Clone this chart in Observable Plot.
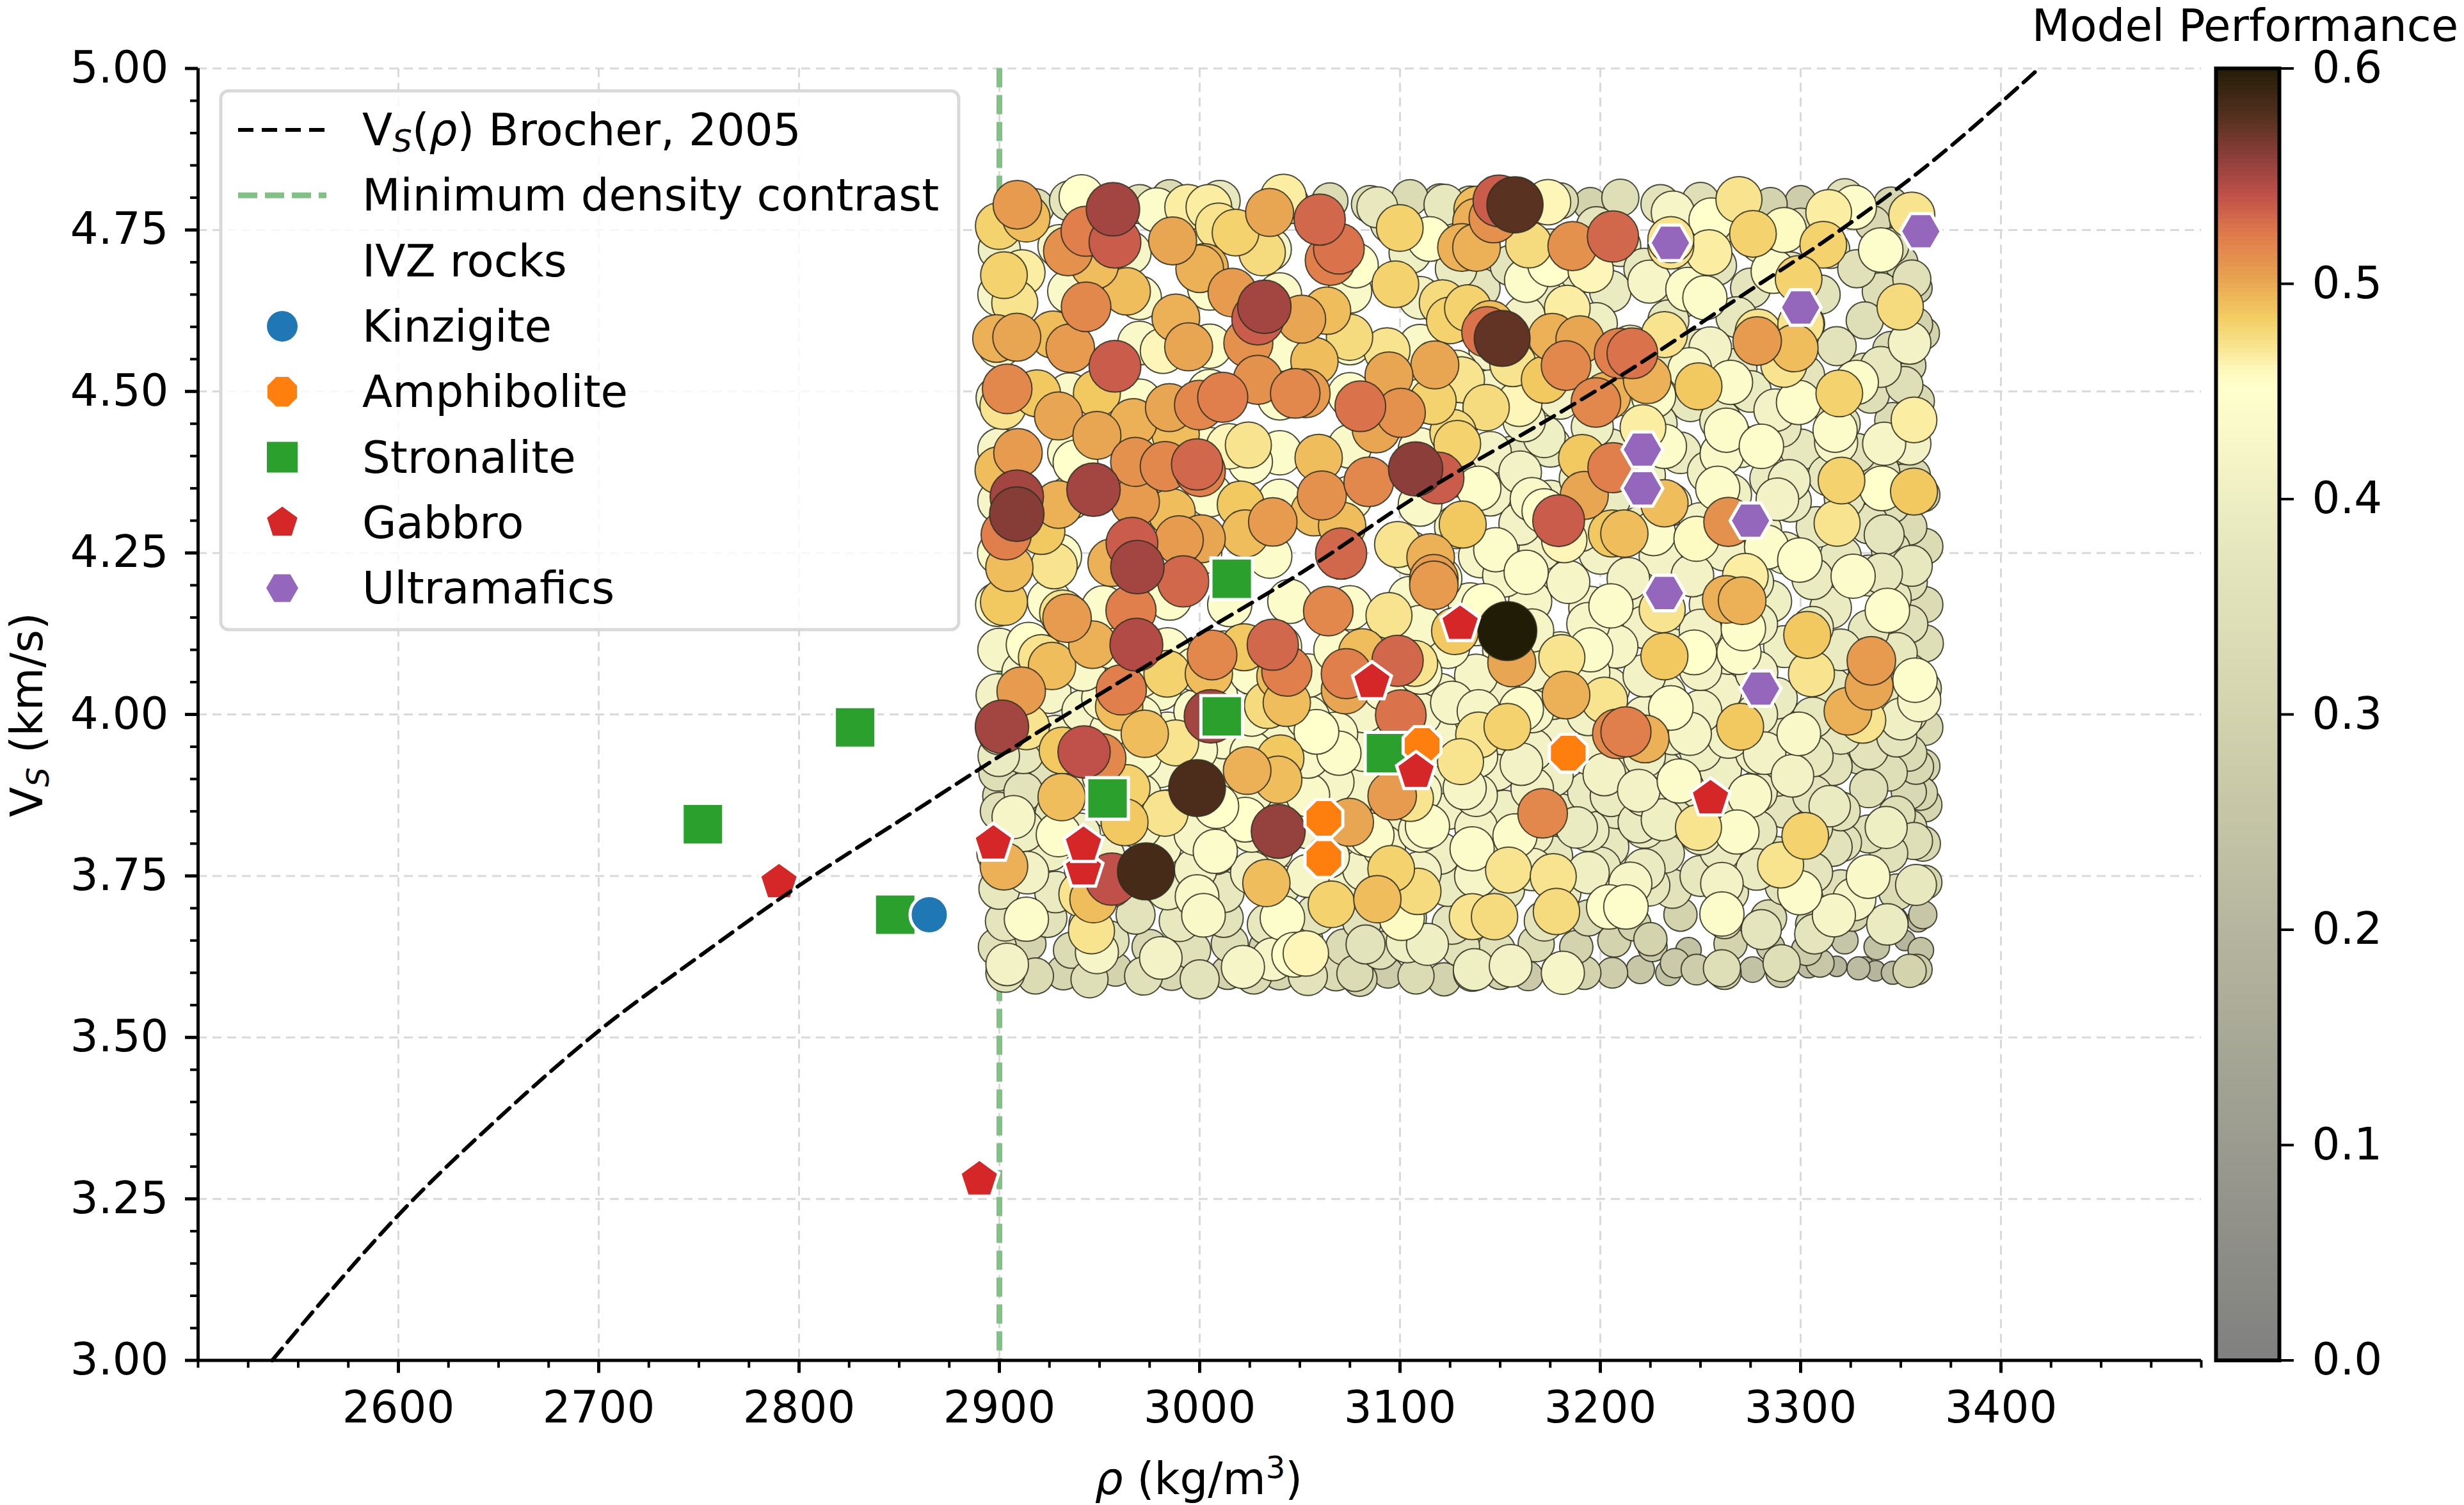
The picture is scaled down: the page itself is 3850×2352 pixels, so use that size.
<!DOCTYPE html>
<html>
<head>
<meta charset="utf-8">
<script src="https://cdn.jsdelivr.net/npm/d3@7"></script>
<script src="https://cdn.jsdelivr.net/npm/@observablehq/plot@0.6"></script>
<style>
  body { margin: 0; background: white; }
  #chart { position: relative; width: 3850px; height: 2352px; overflow: hidden; }
  #chart svg { position: absolute; top: 0; overflow: visible; }
</style>
</head>
<body>
<div id="chart"></div>
<script>
// ticks
const xMajor = [2600, 2700, 2800, 2900, 3000, 3100, 3200, 3300, 3400]
const xMinor = [2500, 2525, 2550, 2575, 2625, 2650, 2675, 2725, 2750, 2775, 2825, 2850, 2875, 2925, 2950, 2975, 3025, 3050, 3075, 3125, 3150, 3175, 3225, 3250, 3275, 3325, 3350, 3375, 3425, 3450, 3475, 3500]
const yMajor = [3, 3.25, 3.5, 3.75, 4, 4.25, 4.5, 4.75, 5]
const yMinor = [3.05, 3.1, 3.15, 3.2, 3.3, 3.35, 3.4, 3.45, 3.55, 3.6, 3.65, 3.7, 3.8, 3.85, 3.9, 3.95, 4.05, 4.1, 4.15, 4.2, 4.3, 4.35, 4.4, 4.45, 4.55, 4.6, 4.65, 4.7, 4.8, 4.85, 4.9, 4.95]
const perfTicks = [0, 0.1, 0.2, 0.3, 0.4, 0.5, 0.6]

// colormap
const perfStops = [0, .1, .2, .3, .38, .42, .45, .46, .468, .483, .5025, .522, .54, .557, .577, .6]
const perfColors = ['#808080', '#9b9b8f', '#b6b69f', '#d3d3ae', '#e8e8bf', '#f5f5c8', '#ffffcc', '#fdf6b8', '#f9e795', '#f3cd63', '#e8a050', '#df7a4c', '#c0504a', '#8f3f3c', '#53301f', '#211c06']

// curva de Brocher
const brocher = [[2537,3],[2560,3.085],[2600,3.225],[2650,3.375],[2700,3.51],[2750,3.625],[2800,3.735],[2850,3.835],[2900,3.935],[2961,4.052],[3000,4.125],[3050,4.218],[3107,4.335],[3185,4.477],[3213,4.53],[3269,4.645],[3319,4.748],[3360,4.842],[3419,5]]

// rocas IVZ
const kinzigite = [[2865,3.69]]
const amphibolite = [[3062,3.839],[3062,3.777],[3111,3.952],[3184,3.94]]
const stronalite = [[2752,3.83],[2828,3.98],[2848,3.69],[2954,3.87],[3011,3.997],[3016,4.21],[3093,3.94]]
const gabbro = [[2790,3.74],[2890,3.28],[2897,3.8],[2942,3.76],[2942,3.798],[3130,4.14],[3086,4.05],[3108,3.911],[3255,3.87]]
const ultramafics = [[3235,4.73],[3360,4.748],[3300,4.63],[3221,4.41],[3221,4.35],[3275,4.3],[3232,4.188],[3280,4.04]]

// modelos [rho, vs, performance]
const bottomBand = [[2903,3.6,.36],[2918,3.595,.33],[2932,3.6,.31],[2945,3.59,.34],[2958,3.605,.3],[2972,3.595,.35],[2986,3.6,.32],[3000,3.59,.36],[3014,3.6,.3],[3027,3.595,.33],[3040,3.6,.31],[3054,3.595,.36],[3068,3.6,.33],[3080,3.59,.31],[3094,3.6,.28],[3108,3.595,.33],[3122,3.59,.3],[3136,3.6,.34],[3150,3.6,.3],[3164,3.595,.27],[3178,3.605,.26],[3192,3.6,.3],[3206,3.6,.28],[3220,3.605,.26],[3234,3.6,.24],[3248,3.605,.28],[3262,3.6,.3],[3276,3.605,.24],[3290,3.6,.27],[3304,3.61,.22],[3318,3.61,.2],[3332,3.61,.19],[3346,3.6,.22],[3358,3.605,.28],
[2899,3.64,.35],[2915,3.645,.3],[2936,3.635,.33],[2955,3.65,.36],[2975,3.64,.32],[2996,3.635,.35],[3015,3.645,.34],[3033,3.64,.3],[3052,3.65,.35],[3072,3.64,.33],[3090,3.635,.35],[3111,3.645,.31],[3130,3.64,.36],[3148,3.635,.35],[3168,3.645,.33],[3188,3.64,.3],[3207,3.65,.3],[3226,3.64,.27],[3244,3.635,.24],[3265,3.645,.3],[3285,3.64,.26],[3303,3.635,.28],[3322,3.65,.25],[3338,3.64,.24],[3352,3.65,.2],[3360,3.635,.24],
[2903,3.68,.37],[2924,3.685,.36],[2945,3.675,.38],[2968,3.69,.36],[2990,3.68,.38],[3012,3.685,.36],[3034,3.675,.38],[3058,3.69,.37],[3081,3.68,.36],[3103,3.685,.38],[3126,3.675,.37],[3148,3.69,.36],[3172,3.68,.37],[3194,3.685,.33],[3217,3.675,.3],[3240,3.69,.3],[3262,3.68,.32],[3284,3.685,.33],[3306,3.675,.31],[3326,3.69,.3],[3346,3.68,.28],[3361,3.69,.26]]

const midBand = [[2900,3.73,.38],[2928,3.725,.39],[2956,3.735,.41],[2984,3.73,.4],[3012,3.725,.38],[3040,3.735,.39],[3068,3.73,.41],[3096,3.725,.4],[3124,3.735,.39],[3152,3.73,.38],[3180,3.725,.39],[3208,3.735,.38],[3236,3.73,.36],[3264,3.725,.37],[3292,3.735,.36],[3320,3.73,.35],[3348,3.725,.33],[3362,3.74,.31],
[2899,3.785,.38],[2925,3.79,.4],[2952,3.78,.41],[2980,3.795,.42],[3008,3.785,.41],[3036,3.79,.4],[3064,3.78,.42],[3092,3.795,.42],[3120,3.785,.4],[3148,3.79,.41],[3176,3.78,.38],[3204,3.795,.38],[3232,3.785,.37],[3260,3.79,.39],[3288,3.78,.37],[3316,3.795,.36],[3344,3.785,.35],[3361,3.8,.32],
[2900,3.85,.35],[2928,3.845,.38],[2956,3.855,.4],[2984,3.85,.42],[3012,3.845,.42],[3040,3.855,.41],[3068,3.85,.42],[3096,3.845,.41],[3124,3.855,.41],[3152,3.85,.4],[3180,3.845,.39],[3208,3.855,.38],[3236,3.85,.38],[3264,3.845,.39],[3292,3.855,.37],[3320,3.85,.36],[3348,3.845,.34],[3362,3.86,.31],
[2899,3.91,.34],[2925,3.915,.36],[2952,3.905,.41],[2980,3.92,.42],[3008,3.91,.42],[3036,3.915,.42],[3064,3.905,.42],[3092,3.92,.42],[3120,3.91,.41],[3148,3.915,.41],[3176,3.905,.4],[3204,3.92,.4],[3232,3.91,.39],[3260,3.915,.4],[3288,3.905,.38],[3316,3.92,.36],[3344,3.91,.34],[3361,3.92,.31],
[2900,3.97,.4],[2928,3.965,.42],[2956,3.975,.43],[2984,3.97,.43],[3012,3.965,.43],[3040,3.975,.42],[3068,3.97,.43],[3096,3.965,.42],[3124,3.975,.42],[3152,3.97,.41],[3180,3.965,.41],[3208,3.975,.4],[3236,3.97,.4],[3264,3.965,.41],[3292,3.975,.39],[3320,3.97,.38],[3348,3.965,.37],[3362,3.98,.33],
[2899,4.03,.41],[2925,4.035,.42],[2952,4.025,.43],[2980,4.04,.43],[3008,4.03,.43],[3036,4.035,.43],[3064,4.025,.42],[3092,4.04,.43],[3120,4.03,.42],[3148,4.035,.41],[3176,4.025,.41],[3204,4.04,.41],[3232,4.03,.41],[3260,4.035,.41],[3288,4.025,.39],[3316,4.04,.38],[3344,4.03,.38],[3361,4.04,.34],
[2900,4.1,.42],[2928,4.095,.43],[2956,4.105,.44],[2984,4.1,.44],[3012,4.095,.44],[3040,4.105,.43],[3068,4.1,.44],[3096,4.095,.43],[3124,4.105,.43],[3152,4.1,.42],[3180,4.095,.41],[3208,4.105,.42],[3236,4.1,.4],[3264,4.095,.41],[3292,4.105,.4],[3320,4.1,.39],[3348,4.095,.38],[3362,4.11,.34]]

const upperBand = [[2899,4.17,.43],[2925,4.175,.44],[2952,4.165,.44],[2985,4.18,.44],[3015,4.17,.44],[3045,4.175,.44],[3075,4.165,.44],[3105,4.18,.43],[3135,4.17,.43],[3165,4.175,.42],[3195,4.165,.42],[3225,4.18,.41],[3255,4.17,.41],[3285,4.175,.4],[3315,4.165,.39],[3345,4.18,.38],[3362,4.17,.33],
[2900,4.25,.43],[2930,4.245,.44],[2965,4.255,.44],[3000,4.25,.44],[3035,4.245,.44],[3070,4.255,.44],[3105,4.25,.43],[3140,4.245,.42],[3170,4.255,.41],[3200,4.25,.41],[3230,4.245,.41],[3262,4.255,.41],[3292,4.25,.4],[3320,4.245,.38],[3345,4.255,.36],[3362,4.26,.33],
[2900,4.33,.42],[2935,4.335,.43],[2970,4.325,.44],[3005,4.34,.44],[3040,4.33,.44],[3075,4.335,.44],[3110,4.325,.43],[3145,4.34,.41],[3175,4.33,.4],[3205,4.335,.39],[3235,4.325,.41],[3265,4.34,.4],[3295,4.33,.39],[3322,4.335,.38],[3345,4.325,.35],[3361,4.34,.31],
[2900,4.41,.42],[2935,4.405,.43],[2970,4.415,.44],[3005,4.41,.44],[3040,4.405,.44],[3075,4.415,.43],[3110,4.41,.43],[3145,4.405,.41],[3175,4.415,.39],[3205,4.41,.39],[3240,4.405,.39],[3270,4.415,.41],[3300,4.41,.38],[3328,4.405,.36],[3350,4.415,.33],
[2899,4.49,.41],[2935,4.495,.43],[2970,4.485,.44],[3005,4.5,.44],[3040,4.49,.44],[3075,4.495,.44],[3110,4.485,.44],[3145,4.5,.42],[3180,4.49,.41],[3212,4.495,.4],[3245,4.485,.38],[3275,4.5,.39],[3305,4.49,.37],[3335,4.495,.34],[3358,4.485,.32],
[2900,4.57,.41],[2935,4.565,.43],[2970,4.575,.43],[3005,4.57,.44],[3040,4.565,.44],[3075,4.575,.43],[3110,4.57,.43],[3145,4.565,.41],[3180,4.575,.41],[3215,4.57,.4],[3250,4.565,.38],[3285,4.575,.39],[3318,4.57,.36],[3345,4.565,.33],[3361,4.59,.3],
[2900,4.65,.42],[2935,4.655,.43],[2970,4.645,.43],[3005,4.66,.44],[3040,4.65,.43],[3075,4.655,.43],[3110,4.645,.41],[3140,4.66,.37],[3170,4.65,.39],[3205,4.655,.39],[3240,4.645,.38],[3275,4.66,.37],[3310,4.65,.36],[3340,4.655,.34],[3358,4.66,.28],
[2900,4.72,.4],[2930,4.725,.42],[2965,4.715,.42],[3000,4.73,.43],[3035,4.72,.42],[3070,4.725,.4],[3105,4.715,.4],[3140,4.73,.36],[3175,4.72,.38],[3210,4.725,.38],[3245,4.715,.38],[3280,4.73,.37],[3315,4.72,.35],[3345,4.725,.33],
[2918,4.785,.34],[2935,4.795,.37],[2970,4.79,.36],[2985,4.8,.33],[3010,4.795,.38],[3045,4.79,.36],[3065,4.795,.33],[3085,4.79,.34],[3105,4.8,.33],[3120,4.795,.31],[3135,4.79,.33],[3180,4.795,.33],[3195,4.79,.3],[3210,4.8,.34],[3230,4.79,.36],[3250,4.795,.34],[3285,4.79,.3],[3300,4.795,.28],[3322,4.8,.35],[3345,4.79,.31]]

// relleno entre filas, zonas que quedaban vacias
const fillBand = [[2914,3.755,.41],[2943,3.76,.4],[2971,3.75,.42],[2998,3.76,.41],[3026,3.755,.41],[3054,3.75,.42],[3082,3.76,.41],[3110,3.755,.41],[3138,3.75,.42],[3166,3.76,.41],[3194,3.755,.4],[3222,3.76,.39],[3250,3.75,.38],[3278,3.76,.39],[3306,3.755,.37],[3334,3.75,.35],
[2912,3.82,.4],[2940,3.815,.4],[2970,3.825,.42],[2998,3.815,.42],[3026,3.82,.42],[3054,3.825,.41],[3082,3.815,.42],[3110,3.82,.42],[3138,3.825,.41],[3166,3.815,.4],[3194,3.82,.39],[3222,3.825,.39],[3250,3.815,.39],[3278,3.82,.38],[3306,3.825,.37],[3334,3.815,.35],[3354,3.825,.33],
[2912,3.88,.36],[2942,3.885,.4],[2970,3.875,.42],[2998,3.885,.43],[3026,3.88,.42],[3054,3.875,.43],[3082,3.885,.42],[3110,3.88,.42],[3138,3.875,.41],[3166,3.885,.41],[3194,3.88,.39],[3222,3.875,.4],[3250,3.885,.39],[3278,3.88,.39],[3306,3.875,.37],[3334,3.885,.35],[3354,3.88,.32],
[2912,3.94,.38],[2942,3.945,.41],[2970,3.935,.43],[2998,3.945,.43],[3026,3.94,.43],[3054,3.935,.43],[3082,3.945,.42],[3110,3.94,.42],[3138,3.935,.42],[3166,3.945,.41],[3194,3.94,.41],[3222,3.935,.4],[3250,3.945,.4],[3278,3.94,.4],[3306,3.935,.38],[3334,3.945,.36],[3354,3.94,.33],
[2912,4,.41],[2942,4.005,.42],[2970,3.995,.43],[2998,4.005,.43],[3026,4,.43],[3054,3.995,.43],[3082,4.005,.42],[3110,4,.42],[3138,3.995,.42],[3166,4.005,.42],[3194,4,.41],[3222,3.995,.41],[3250,4.005,.41],[3278,4,.4],[3306,3.995,.38],[3334,4.005,.37],[3354,4,.34],
[2912,4.065,.42],[2942,4.07,.43],[2970,4.06,.44],[2998,4.07,.44],[3026,4.065,.44],[3054,4.06,.43],[3082,4.07,.43],[3110,4.065,.43],[3138,4.06,.42],[3166,4.07,.42],[3194,4.065,.42],[3222,4.06,.41],[3250,4.07,.41],[3278,4.065,.41],[3306,4.06,.39],[3334,4.07,.38],[3354,4.065,.35],
[3110,4.135,.43],[3138,4.14,.43],[3166,4.13,.42],[3194,4.14,.42],[3222,4.135,.41],[3250,4.13,.41],[3278,4.14,.4],[3306,4.135,.39],[3334,4.13,.38],[3354,4.14,.35],
[3120,4.21,.43],[3152,4.215,.42],[3184,4.205,.42],[3214,4.21,.41],[3246,4.215,.41],[3276,4.205,.4],[3306,4.21,.39],[3334,4.215,.38],[3354,4.205,.34],
[3128,4.29,.42],[3160,4.295,.41],[3190,4.285,.41],[3220,4.29,.4],[3250,4.295,.41],[3280,4.285,.4],[3308,4.29,.38],[3334,4.295,.37],[3354,4.29,.33],
[3128,4.37,.42],[3160,4.375,.41],[3190,4.365,.4],[3222,4.37,.4],[3254,4.375,.4],[3285,4.365,.39],[3314,4.37,.38],[3340,4.375,.35],[3356,4.37,.32],
[3128,4.45,.43],[3162,4.455,.41],[3196,4.445,.4],[3228,4.45,.39],[3260,4.455,.39],[3290,4.445,.38],[3320,4.45,.36],[3346,4.455,.33],
[3128,4.53,.43],[3162,4.535,.42],[3198,4.525,.4],[3232,4.53,.39],[3268,4.535,.38],[3302,4.525,.37],[3332,4.53,.35],[3354,4.54,.31],
[3128,4.61,.42],[3162,4.615,.41],[3198,4.605,.4],[3234,4.61,.38],[3268,4.615,.38],[3302,4.605,.37],[3332,4.61,.34],
[3128,4.69,.39],[3155,4.695,.37],[3190,4.685,.39],[3222,4.69,.38],[3258,4.695,.37],[3295,4.685,.37],[3328,4.69,.35],[3350,4.7,.31],
[3095,4.76,.36],[3125,4.755,.35],[3160,4.76,.36],[3198,4.755,.37],[3262,4.76,.35],[3300,4.755,.34],[3336,4.76,.32],[3352,4.74,.3]]

const topLeft = [[2909,4.789,.505],[2913.5,4.768,.49],[2899.7,4.756,.48],[2941,4.801,.45],[2956.7,4.782,.55],[2957.7,4.731,.535],[2943.3,4.748,.52],[2934.3,4.717,.51],[2978.5,4.781,.44],[2986.5,4.733,.5],[2994,4.785,.465],[3004.6,4.785,.465],[3009.4,4.756,.47],[3017.9,4.746,.48],[3034.9,4.777,.5],[3041.8,4.801,.465],[3031.2,4.715,.475],[3002.4,4.692,.495],[3000,4.69,.495],[3016.3,4.653,.505],[3032.3,4.631,.55],[3029,4.612,.535],[3024.3,4.575,.51],[3029,4.518,.51],[3011.5,4.491,.52],[2999.8,4.479,.515],[2984.9,4.475,.5],[2994.5,4.569,.5],[2988.1,4.614,.495],[2981.7,4.563,.46],[2943.3,4.631,.515],[2963.6,4.655,.49],[2947.6,4.695,.49],[2902.3,4.68,.48],[2911.4,4.684,.465],[2907.7,4.637,.47],[2957.7,4.539,.535],[2935.4,4.567,.505],[2908.7,4.584,.5],[2898.6,4.582,.495],[2926.8,4.588,.49],[2903.9,4.504,.515],[2918.8,4.497,.485],[2901.8,4.477,.47],[2929.5,4.462,.5],[2948.7,4.432,.5],[2948.7,4.497,.485],[2966.8,4.452,.495],[2988,4.434,.49],[2909.3,4.405,.505],[2899.7,4.378,.49],[2908.7,4.337,.55],[2908.7,4.31,.56],[2903.4,4.278,.52],[2921,4.284,.485],[2929.5,4.325,.495],[2947,4.348,.55],[2967.8,4.391,.51],[2982.7,4.384,.515],[2998.7,4.387,.53],[3000.3,4.376,.52],[2967.8,4.329,.505],[2986,4.313,.49],[2989.7,4.27,.505],[3000.8,4.272,.5],[2966.2,4.265,.535],[2968.9,4.228,.55],[2956.1,4.235,.495],[2927.4,4.23,.47],[2905,4.227,.49],[2991.8,4.206,.53],[3020.5,4.325,.485],[3022.7,4.28,.49],[3036.5,4.298,.505],[3024.3,4.417,.47],[3014.7,4.415,.46],[3025.3,4.391,.44],[2938,4.39,.45],[3047.7,4.497,.515]]

const topMid = [[3059.9,4.766,.53],[3069.5,4.721,.525],[3065.2,4.703,.52],[3099.9,4.753,.48],[3114.8,4.736,.45],[3088.7,4.785,.38],[3122.2,4.789,.38],[3149.4,4.795,.535],[3157.4,4.789,.575],[3146.7,4.768,.51],[3138.7,4.781,.49],[3138.2,4.762,.495],[3130.7,4.723,.495],[3138.2,4.723,.495],[3164.3,4.727,.475],[3173.9,4.793,.46],[3186.1,4.725,.51],[3206.3,4.74,.53],[3195.2,4.688,.46],[3174.9,4.697,.45],[3163.2,4.672,.44],[3183.5,4.629,.465],[3097.7,4.666,.48],[3078,4.695,.45],[3121.2,4.637,.475],[3124.9,4.61,.48],[3133.9,4.629,.48],[3145.1,4.604,.49],[3143.5,4.592,.525],[3151,4.582,.572],[3063.6,4.625,.49],[3050.9,4.612,.5],[3074.8,4.584,.475],[3093.5,4.563,.47],[3117.4,4.541,.5],[3094.5,4.524,.5],[3057.3,4.547,.49],[3053,4.497,.505],[3080.2,4.477,.525],[3100.4,4.467,.51],[3088.1,4.442,.5],[3116.4,4.485,.48],[3130.7,4.518,.47],[3143,4.475,.475],[3126.5,4.436,.475],[3128.6,4.419,.48],[3159.5,4.481,.46],[3156.3,4.543,.47],[3176,4.584,.495],[3189.8,4.58,.5],[3182.9,4.54,.515],[3172.3,4.518,.485],[3197.8,4.483,.515],[3203.2,4.493,.495],[3209.5,4.559,.52],[3059.4,4.397,.49],[3061,4.339,.51],[3084.4,4.36,.515],[3057.3,4.313,.49],[3107.8,4.38,.558],[3119,4.366,.535],[3131.3,4.294,.485],[3098.8,4.263,.47],[3070.6,4.249,.53],[3071.1,4.292,.49],[3115.3,4.243,.495],[3116.9,4.21,.505],[3190.9,4.397,.485],[3192,4.339,.5],[3179.2,4.3,.535],[3205.8,4.28,.485],[3182,4.27,.46],[3206.3,4.382,.52],[3139.3,4.35,.445],[3165.9,4.333,.43],[3172,4.315,.445],[3147.8,4.255,.44],[3156,4.399,.38],[3172,4.43,.4],[3163,4.22,.44]]

const topRight = [[3235.2,4.725,.47],[3235.2,4.735,.47],[3254.3,4.715,.465],[3269.2,4.797,.47],[3276.2,4.744,.48],[3291.6,4.75,.455],[3255.4,4.765,.45],[3236.2,4.777,.42],[3311.3,4.727,.48],[3314,4.777,.465],[3326.8,4.785,.44],[3299,4.674,.48],[3340,4.719,.445],[3355.5,4.773,.47],[3349.7,4.631,.475],[3354.4,4.575,.41],[3286.3,4.686,.44],[3243.7,4.658,.44],[3224.5,4.67,.42],[3252.2,4.645,.44],[3278.8,4.592,.47],[3278.3,4.578,.505],[3296.9,4.567,.49],[3291.6,4.542,.47],[3300.1,4.604,.47],[3232,4.588,.47],[3216,4.559,.525],[3223.4,4.518,.495],[3249,4.508,.485],[3265,4.514,.44],[3226.6,4.493,.44],[3221.3,4.444,.465],[3232,4.415,.44],[3254.9,4.567,.41],[3244.7,4.534,.43],[3262.9,4.44,.44],[3280.4,4.415,.445],[3260.7,4.403,.43],[3299,4.483,.445],[3287.3,4.471,.41],[3319.3,4.497,.48],[3327.8,4.514,.44],[3317.2,4.44,.44],[3317.7,4.421,.42],[3340,4.538,.38],[3351.8,4.51,.34],[3356.6,4.456,.465],[3341.7,4.419,.42],[3354.4,4.419,.41],[3320.4,4.362,.48],[3356.6,4.345,.485],[3340.6,4.35,.45],[3318.2,4.296,.47],[3341.7,4.278,.37],[3232,4.327,.49],[3212,4.28,.49],[3258.6,4.35,.44],[3248,4.272,.455],[3263.9,4.298,.51],[3288.4,4.333,.41],[3294.3,4.362,.4],[3283,4.259,.44],[3299.6,4.239,.445],[3326.2,4.214,.44],[3272.4,4.214,.465],[3226.6,4.28,.44],[3355.5,4.23,.38],[3340.6,4.218,.38],[3355.5,4.674,.35],[3357.6,4.604,.3]]

const lowLeft = [[2902.3,4.174,.485],[2933.8,4.149,.505],[2931.6,4.157,.47],[2965.7,4.161,.52],[2968.4,4.108,.545],[2946.5,4.108,.495],[2926.3,4.075,.49],[2921,4.088,.47],[2914.6,4.108,.45],[2910.9,4.036,.505],[2901.3,3.981,.55],[2960.9,4.038,.52],[2959.8,4.012,.49],[2972.6,3.97,.49],[2988,3.956,.47],[2983.8,4.063,.48],[3006.2,4.092,.515],[3004.6,4.063,.49],[3036.5,4.108,.53],[3022.2,4.104,.485],[3043.5,4.067,.52],[3040.3,4.059,.49],[3033.9,4.014,.475],[3043.5,4.018,.49],[3005.6,3.997,.55],[3023.7,3.913,.495],[3039.2,3.899,.49],[3040.3,3.932,.485],[2998.7,3.886,.58],[2942.3,3.942,.54],[2950.8,3.932,.515],[2931.6,3.944,.485],[2913.5,3.981,.47],[2931.1,3.872,.49],[2963.6,3.886,.48],[2962.5,3.833,.485],[2982.7,3.847,.47],[2929.5,3.814,.445],[2902.3,3.765,.495],[2956.1,3.745,.54],[2973.2,3.757,.583],[2947,3.714,.49],[2941.2,3.722,.47],[2946,3.665,.47],[2913.5,3.683,.44],[2903.9,3.613,.41],[2980.6,3.623,.41],[3007.8,3.788,.44],[2998.7,3.718,.43],[3001.9,3.689,.43],[3039.2,3.819,.555],[3033.3,3.739,.49],[3022.7,3.837,.45],[3008.3,3.858,.45],[3041.3,3.685,.445],[3036.5,3.621,.42],[3021.6,3.609,.42],[2948.7,3.632,.42],[2907.1,3.841,.42],[2899.7,3.936,.39],[2914,3.878,.34],[2900.7,3.874,.33],[3047.2,3.628,.45]]

const lowMid = [[3064.2,4.16,.515],[3094.5,4.153,.47],[3116.9,4.2,.505],[3098.8,4.083,.53],[3073.2,4.063,.52],[3072.7,4.038,.5],[3081.2,4.096,.49],[3107.3,4.079,.47],[3100.4,3.999,.525],[3127.5,4.129,.485],[3141.9,4.168,.45],[3153.6,4.129,.6],[3155.8,4.08,.5],[3180.8,4.088,.47],[3182.9,4.03,.495],[3202.1,4.022,.47],[3208.5,3.97,.515],[3153.6,3.981,.48],[3139.3,3.968,.47],[3130.2,3.927,.47],[3096.1,3.874,.505],[3105.2,3.87,.47],[3171.2,3.847,.515],[3154.2,3.759,.47],[3176.5,3.749,.47],[3178.1,3.695,.475],[3147.2,3.687,.475],[3136.1,3.687,.47],[3095.6,3.761,.48],[3108.9,3.726,.475],[3088.7,3.714,.49],[3065.8,3.706,.48],[3074.8,3.833,.5],[3053,3.63,.46],[3136,3.792,.44],[3113.7,3.827,.44],[3100.9,3.685,.455],[3155.2,3.611,.41],[3137.1,3.605,.4],[3181.3,3.6,.42],[3132.3,3.886,.42],[3160.6,3.923,.41],[3157.4,3.812,.44],[3204.2,3.702,.445],[3200,3.763,.38],[3188.2,3.825,.39],[3126,4.018,.42],[3160.6,4.008,.44],[3139.3,4.005,.42],[3195.2,4.1,.44],[3205.3,4.168,.44],[3069.5,3.94,.44],[3058.3,3.973,.45],[3066.3,3.895,.42],[3086,3.813,.44],[3082.8,3.644,.36],[3103.6,3.648,.4],[3113.7,3.644,.4],[3077.5,3.599,.33],[3205.3,3.874,.39],[3202,3.907,.41]]

const lowRight = [[3262.9,4.178,.495],[3270.8,4.176,.495],[3230.9,4.162,.47],[3232,4.09,.485],[3246.9,4.096,.45],[3271.4,4.133,.445],[3269.2,4.096,.44],[3303.3,4.123,.485],[3305.4,4.063,.47],[3335.3,4.083,.505],[3334.2,4.044,.5],[3323.6,4.005,.495],[3331,3.991,.47],[3343.3,4.161,.445],[3357.1,4.053,.445],[3359.2,4.022,.42],[3350.2,3.993,.4],[3212.8,3.973,.52],[3222.4,3.962,.495],[3235.2,4.01,.445],[3244.7,3.97,.42],[3269.8,3.981,.485],[3299.1,3.97,.43],[3282,3.94,.41],[3295.9,3.905,.41],[3328.9,3.936,.33],[3357.6,3.919,.32],[3359.8,3.878,.31],[3239.4,3.897,.44],[3249,3.825,.47],[3268.2,3.818,.44],[3274.6,3.874,.43],[3314.5,3.858,.39],[3302.3,3.812,.48],[3290,3.767,.47],[3342.7,3.825,.4],[3320.9,3.802,.35],[3356.6,3.804,.34],[3333.7,3.749,.43],[3326.8,3.714,.42],[3299.6,3.724,.44],[3316.6,3.689,.42],[3307,3.66,.37],[3343.3,3.675,.39],[3357.6,3.736,.38],[3260.7,3.691,.44],[3260.7,3.738,.41],[3280.4,3.667,.37],[3225,3.652,.3],[3260.7,3.607,.34],[3237.3,3.615,.27],[3290.5,3.615,.34],[3354.4,3.603,.3],[3309.7,3.615,.26],[3328.9,3.607,.22],[3337.4,3.603,.2],[3358.7,3.681,.22],[3215,3.738,.42],[3212.8,3.702,.445],[3224.5,3.735,.38],[3219.2,3.882,.41],[3230.9,3.837,.4],[3219.2,3.833,.39],[3337.4,3.936,.31]]

const models = [...bottomBand, ...midBand, ...upperBand, ...fillBand, ...topLeft, ...topMid, ...topRight, ...lowLeft, ...lowMid, ...lowRight]

// simbolos: poligono regular, r = circunradio (viene de size)
const polygon = (n, rot) => ({
  draw(ctx, size) {
    const R = Math.sqrt(size / Math.PI)
    for (let i = 0; i < n; i++) {
      const a = rot + i * 2 * Math.PI / n
      if (i === 0) ctx.moveTo(R * Math.cos(a), R * Math.sin(a))
      else ctx.lineTo(R * Math.cos(a), R * Math.sin(a))
    }
    ctx.closePath()
  }
})
const octagon = polygon(8, Math.PI / 8)
const square = polygon(4, Math.PI / 4)
const pentagon = polygon(5, -Math.PI / 2)
const hexagon = polygon(6, 0)

const rockMark = (data, fill, symbol, r) => Plot.dot(data, {
  x: d => d[0], y: d => d[1], r, symbol, fill, stroke: 'white', strokeWidth: 5
})

const font = 'DejaVu Sans'
const fs = 69

const chart = Plot.plot({
  width: 3450, height: 2352,
  marginLeft: 309, marginRight: 11, marginTop: 106.5, marginBottom: 226.5,
  style: { fontFamily: font, background: 'transparent', color: 'black' },
  x: { domain: [2500, 3500] },
  y: { domain: [3, 5] },
  r: { type: 'linear', domain: [.19, .3, .38, .45, .5, .6], range: [15, 26, 32, 35, 37.5, 46] },
  color: { type: 'linear', domain: perfStops, range: perfColors },
  marks: [
    Plot.gridX(xMajor, { stroke: '#d9d9d9', strokeOpacity: 1, strokeWidth: 3, strokeDasharray: '14 9' }),
    Plot.gridY(yMajor, { stroke: '#d9d9d9', strokeOpacity: 1, strokeWidth: 3, strokeDasharray: '14 9' }),
    Plot.ruleX([2900], { stroke: '#80c283', strokeWidth: 9, strokeDasharray: '30 12' }),
    Plot.dot(models, {
      x: d => d[0], y: d => d[1], r: d => d[2], fill: d => d[2],
      sort: d => d[2],
      stroke: '#2f2f1f', strokeWidth: 2, strokeOpacity: .85
    }),
    rockMark(stronalite, '#2ca02c', square, 46),
    rockMark(amphibolite, '#ff7f0e', octagon, 32),
    rockMark(kinzigite, '#1f77b4', 'circle', 30),
    rockMark(gabbro, '#d62728', pentagon, 32),
    rockMark(ultramafics, '#9467bd', hexagon, 32),
    Plot.line(brocher, { x: d => d[0], y: d => d[1], curve: 'monotone-x', stroke: 'black', strokeWidth: 6, strokeDasharray: '24 13' }),
    Plot.ruleX([2500], { strokeWidth: 5 }),
    Plot.ruleY([3], { strokeWidth: 5 }),
    Plot.axisX(xMajor, { tickSize: 20, tickPadding: 28, strokeWidth: 5, fontSize: fs, tickFormat: 'd', label: null }),
    Plot.axisX(xMinor, { tickSize: 12, strokeWidth: 4, fill: 'none', label: null }),
    Plot.axisY(yMajor, { tickSize: 20, tickPadding: 26, strokeWidth: 5, fontSize: fs, tickFormat: '.2f', label: null }),
    Plot.axisY(yMinor, { tickSize: 12, strokeWidth: 4, fill: 'none', label: null })
  ]
})

// etiquetas con subindices y cursiva
const svg = d3.select(chart)
const xLabel = svg.append('text').attr('x', 1873).attr('y', 2335).attr('text-anchor', 'middle').attr('font-size', fs)
xLabel.append('tspan').attr('font-style', 'italic').text('ρ')
xLabel.append('tspan').text(' (kg/m')
xLabel.append('tspan').attr('font-size', 48).attr('dy', -25).text('3')
xLabel.append('tspan').attr('dy', 25).text(')')

const yLabel = svg.append('text').attr('transform', 'translate(66,1117) rotate(-90)').attr('text-anchor', 'middle').attr('font-size', fs)
yLabel.append('tspan').text('V')
yLabel.append('tspan').attr('font-size', 48).attr('font-style', 'italic').attr('dy', 10).text('S')
yLabel.append('tspan').attr('dy', -10).text(' (km/s)')

// leyenda
const legend = svg.append('g').attr('text-anchor', 'start')
legend.append('rect').attr('x', 345).attr('y', 142).attr('width', 1153).attr('height', 842).attr('rx', 12)
  .attr('fill', 'white').attr('fill-opacity', .8).attr('stroke', '#d9d9d9').attr('stroke-width', 5)
const rowY = i => 203 + i * 102.3
const legendText = (i) => legend.append('text').attr('x', 566).attr('y', rowY(i) + 24).attr('font-size', fs)
const first = legendText(0)
first.append('tspan').text('V')
first.append('tspan').attr('font-size', 48).attr('font-style', 'italic').attr('dy', 10).text('S')
first.append('tspan').attr('dy', -10).text('(')
first.append('tspan').attr('font-style', 'italic').text('ρ')
first.append('tspan').text(') Brocher, 2005')
legendText(1).text('Minimum density contrast')
legendText(2).text('IVZ rocks')
legend.append('line').attr('x1', 372).attr('x2', 510).attr('y1', rowY(0)).attr('y2', rowY(0))
  .attr('stroke', 'black').attr('stroke-width', 6).attr('stroke-dasharray', '24 13')
legend.append('line').attr('x1', 372).attr('x2', 510).attr('y1', rowY(1)).attr('y2', rowY(1))
  .attr('stroke', '#80c283').attr('stroke-width', 9).attr('stroke-dasharray', '30 12')
const rocks = [['Kinzigite', '#1f77b4', null, 24], ['Amphibolite', '#ff7f0e', octagon, 25], ['Stronalite', '#2ca02c', square, 34], ['Gabbro', '#d62728', pentagon, 25], ['Ultramafics', '#9467bd', hexagon, 25]]
rocks.forEach(([name, fill, sym, r], i) => {
  legendText(i + 3).text(name)
  const g = legend.append('g').attr('transform', `translate(441,${rowY(i + 3)})`)
  if (sym) {
    const p = d3.path()
    sym.draw(p, Math.PI * r * r)
    g.append('path').attr('d', p.toString()).attr('fill', fill)
  } else {
    g.append('circle').attr('r', r).attr('fill', fill)
  }
})

// barra de color
const colorbar = Plot.plot({
  width: 750, height: 2352,
  marginLeft: 362, marginRight: 289, marginTop: 106.5, marginBottom: 226.5,
  style: { fontFamily: font, background: 'transparent', color: 'black' },
  x: { domain: [0, 1], axis: null },
  y: { domain: [0, .6] },
  color: { type: 'linear', domain: perfStops, range: perfColors },
  marks: [
    Plot.rect(d3.range(0, .6, .002), { x1: () => 0, x2: () => 1, y1: d => d, y2: d => Math.min(.6, d + .003), fill: d => d }),
    Plot.frame({ stroke: 'black', strokeWidth: 6 }),
    Plot.axisY(perfTicks, { anchor: 'right', tickSize: 22, tickPadding: 29, strokeWidth: 4, fontSize: fs, tickFormat: '.1f', label: null }),
    Plot.text(['Model Performance'], { frameAnchor: 'top', dx: -4, dy: -65, fontSize: fs, lineAnchor: 'middle', fill: 'black' })
  ]
})
colorbar.style.left = '3100px'

const root = d3.select('#chart')
root.append(() => chart)
root.append(() => colorbar)
</script>
</body>
</html>
